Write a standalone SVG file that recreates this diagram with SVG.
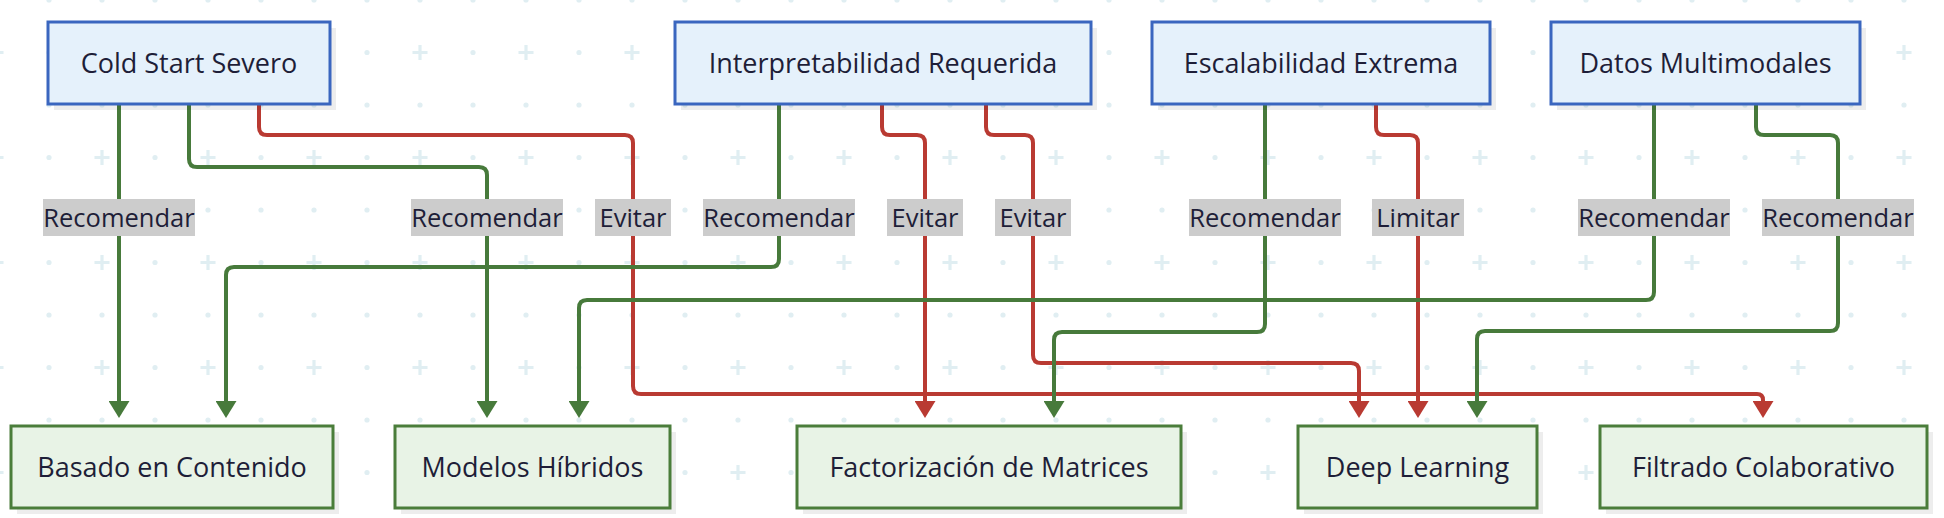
<svg xmlns="http://www.w3.org/2000/svg" width="1944" height="518" viewBox="0 0 1944 518">
<defs>
<style>
.txt{font-family:"Open Sans","Noto Sans","DejaVu Sans",sans-serif;font-size:27px;fill:#1e1e38;text-anchor:middle}
.lbl{font-family:"Open Sans","Noto Sans","DejaVu Sans",sans-serif;font-size:25.5px;fill:#1e1e38;text-anchor:middle}
.top{fill:#e5f1fb;stroke:#3a66bf;stroke-width:3}
.bot{fill:#e8f3e6;stroke:#4a7d3a;stroke-width:3}
.shadow{fill:#000;opacity:0.07}
.g{fill:none;stroke:#477a3b;stroke-width:4}
.r{fill:none;stroke:#b93a32;stroke-width:4}
.lb{fill:#cccccc}
</style>
<pattern id="grid" patternUnits="userSpaceOnUse" x="-30" y="-26" width="106" height="105">
<circle cx="26" cy="26" r="2.6" fill="#e0eef2"/>
<circle cx="79" cy="26" r="2.6" fill="#e0eef2"/>
<circle cx="79" cy="78.5" r="2.6" fill="#e0eef2"/>
<path d="M18.5,78.5 H33.5 M26,71 V86" stroke="#e0eef2" stroke-width="3.2"/>
</pattern>
<marker id="ag" viewBox="0 0 17 21" refX="0" refY="10.5" markerWidth="17" markerHeight="21" markerUnits="userSpaceOnUse" orient="auto">
<path d="M0,0 L17,10.5 L0,21 z" fill="#477a3b"/>
</marker>
<marker id="ar" viewBox="0 0 17 21" refX="0" refY="10.5" markerWidth="17" markerHeight="21" markerUnits="userSpaceOnUse" orient="auto">
<path d="M0,0 L17,10.5 L0,21 z" fill="#b93a32"/>
</marker>
</defs>
<rect x="0" y="0" width="1944" height="518" fill="#ffffff"/>
<rect x="0" y="0" width="1944" height="518" fill="url(#grid)"/>

<g id="connectors">
<path class="g" marker-end="url(#ag)" d="M119,104 V401"/>
<path class="g" marker-end="url(#ag)" d="M189,104 V159 Q189,167 197,167 H479 Q487,167 487,175 V401"/>
<path class="r" marker-end="url(#ar)" d="M259,104 V127 Q259,135 267,135 H625 Q633,135 633,143 V386 Q633,394 641,394 H1757 Q1763,394 1763,400 V401"/>
<path class="g" marker-end="url(#ag)" d="M779,104 V259 Q779,267 771,267 H234 Q226,267 226,275 V401"/>
<path class="r" marker-end="url(#ar)" d="M882,104 V127 Q882,135 890,135 H917 Q925,135 925,143 V401"/>
<path class="r" marker-end="url(#ar)" d="M986,104 V127 Q986,135 994,135 H1025 Q1033,135 1033,143 V355 Q1033,363 1041,363 H1351 Q1359,363 1359,371 V401"/>
<path class="g" marker-end="url(#ag)" d="M1265,104 V324 Q1265,332 1257,332 H1062 Q1054,332 1054,340 V401"/>
<path class="r" marker-end="url(#ar)" d="M1376,104 V127 Q1376,135 1384,135 H1410 Q1418,135 1418,143 V401"/>
<path class="g" marker-end="url(#ag)" d="M1654,104 V292 Q1654,300 1646,300 H587 Q579,300 579,308 V401"/>
<path class="g" marker-end="url(#ag)" d="M1756,104 V127 Q1756,135 1764,135 H1830 Q1838,135 1838,143 V323 Q1838,331 1830,331 H1485 Q1477,331 1477,339 V401"/>
<g id="edge-labels">
<rect class="lb" x="43" y="199" width="152" height="37"/><text class="lbl" x="119" y="227">Recomendar</text>
<rect class="lb" x="411" y="199" width="152" height="37"/><text class="lbl" x="487" y="227">Recomendar</text>
<rect class="lb" x="595" y="199" width="76" height="37"/><text class="lbl" x="633" y="227">Evitar</text>
<rect class="lb" x="703" y="199" width="152" height="37"/><text class="lbl" x="779" y="227">Recomendar</text>
<rect class="lb" x="887" y="199" width="76" height="37"/><text class="lbl" x="925" y="227">Evitar</text>
<rect class="lb" x="995" y="199" width="76" height="37"/><text class="lbl" x="1033" y="227">Evitar</text>
<rect class="lb" x="1189" y="199" width="152" height="37"/><text class="lbl" x="1265" y="227">Recomendar</text>
<rect class="lb" x="1372" y="199" width="92" height="37"/><text class="lbl" x="1418" y="227">Limitar</text>
<rect class="lb" x="1578" y="199" width="152" height="37"/><text class="lbl" x="1654" y="227">Recomendar</text>
<rect class="lb" x="1762" y="199" width="152" height="37"/><text class="lbl" x="1838" y="227">Recomendar</text>
</g>
</g>

<g id="cold-start">
<rect class="shadow" x="54" y="28" width="282" height="82"/>
<rect class="top" x="48" y="22" width="282" height="82"/>
<text class="txt" x="189" y="72.5">Cold Start Severo</text>
</g>
<g id="interpretabilidad">
<rect class="shadow" x="681" y="28" width="416" height="82"/>
<rect class="top" x="675" y="22" width="416" height="82"/>
<text class="txt" x="883" y="72.5">Interpretabilidad Requerida</text>
</g>
<g id="escalabilidad">
<rect class="shadow" x="1158" y="28" width="338" height="82"/>
<rect class="top" x="1152" y="22" width="338" height="82"/>
<text class="txt" x="1321" y="72.5">Escalabilidad Extrema</text>
</g>
<g id="datos-multimodales">
<rect class="shadow" x="1557" y="28" width="309" height="82"/>
<rect class="top" x="1551" y="22" width="309" height="82"/>
<text class="txt" x="1705.5" y="72.5">Datos Multimodales</text>
</g>

<g id="basado-contenido">
<rect class="shadow" x="17" y="432" width="322" height="82"/>
<rect class="bot" x="11" y="426" width="322" height="82"/>
<text class="txt" x="172" y="476.5">Basado en Contenido</text>
</g>
<g id="modelos-hibridos">
<rect class="shadow" x="401" y="432" width="275" height="82"/>
<rect class="bot" x="395" y="426" width="275" height="82"/>
<text class="txt" x="532.5" y="476.5">Modelos Híbridos</text>
</g>
<g id="factorizacion">
<rect class="shadow" x="803" y="432" width="384" height="82"/>
<rect class="bot" x="797" y="426" width="384" height="82"/>
<text class="txt" x="989" y="476.5">Factorización de Matrices</text>
</g>
<g id="deep-learning">
<rect class="shadow" x="1304" y="432" width="239" height="82"/>
<rect class="bot" x="1298" y="426" width="239" height="82"/>
<text class="txt" x="1417.5" y="476.5">Deep Learning</text>
</g>
<g id="filtrado-colaborativo">
<rect class="shadow" x="1606" y="432" width="327" height="82"/>
<rect class="bot" x="1600" y="426" width="327" height="82"/>
<text class="txt" x="1763.5" y="476.5">Filtrado Colaborativo</text>
</g>
</svg>
